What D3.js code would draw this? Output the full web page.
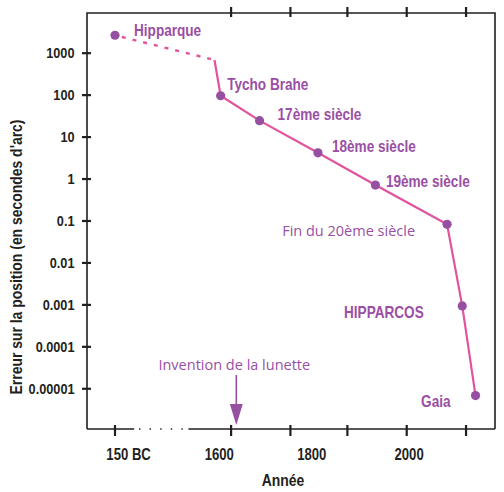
<!DOCTYPE html>
<html>
<head>
<meta charset="utf-8">
<script src="https://cdnjs.cloudflare.com/ajax/libs/d3/7.8.5/d3.min.js"></script>
<style>
  body { margin: 0; background: #fff; }
  .bold { font-family: "Liberation Sans", Arial, sans-serif; font-weight: bold; }
  .light { font-family: "Open Sans", "Noto Sans", sans-serif; }
</style>
</head>
<body>
<div id="chart"></div>
<script>

// data
var eraNames = ["Hipparque", "Tycho Brahe", "17ème siècle", "18ème siècle", "19ème siècle", "Fin du 20ème siècle", "HIPPARCOS", "Gaia"];
var eraYears = [-150, 1603, 1685, 1808, 1929, 2080, 2112, 2140];
var eraErrors = [2600, 94, 24, 4.1, 0.7, 0.081, 0.00092, 0.0000067];

// where the dotted (pre-telescope) guess stops
var breakYear = 1590;
var breakError = 670;

var yTicks = [1000, 100, 10, 1, 0.1, 0.01, 0.001, 0.0001, 0.00001];
var yTickLabels = ["1000", "100", "10", "1", "0.1", "0.01", "0.001", "0.0001", "0.00001"];

var xTickYears = [-150, 1625, 1750, 1870, 1995, 2120];
var xLabelYears = [-65, 1600, 1795, 2000];
var xLabels = ["150 BC", "1600", "1800", "2000"];

var telescopeYear = 1636;
var telescopeLabel = "Invention de la lunette";

// no condensed font installed, so squeeze the bold text by hand
function squeeze(sel, k) {
  sel.each(function() {
    var t = d3.select(this);
    var x = +t.attr("x") || 0, y = +t.attr("y") || 0;
    t.attr("x", 0).attr("y", 0)
      .attr("transform", "translate(" + x + "," + y + ") scale(" + k + ",1)");
  });
}

ErrorChart = function(_parentElement, _width, _height) {
  this.parentElement = _parentElement;
  this.width = _width;
  this.height = _height;
  this.data = eraNames.map(function(n, i) {
    return { name: n, year: eraYears[i], error: eraErrors[i] };
  });
  this.initVis();
}

ErrorChart.prototype.initVis = function() {
  var vis = this;

  vis.margin = { top: 13, right: 9, bottom: 63, left: 87 };
  vis.w = vis.width - vis.margin.left - vis.margin.right;
  vis.h = vis.height - vis.margin.top - vis.margin.bottom;

  vis.svg = d3.select("#" + vis.parentElement).append("svg")
    .attr("width", vis.width)
    .attr("height", vis.height)
    .append("g")
    .attr("transform", "translate(" + vis.margin.left + "," + vis.margin.top + ")");

  // broken time axis: antiquity squeezed in on the left
  vis.x = d3.scaleLinear()
    .domain([-300, -150, 0, 1530, 2181])
    .range([0, 28, 52, 99, vis.w]);

  vis.y = d3.scaleLog()
    .domain([1.07e-6, 8830])
    .range([vis.h, 0]);

  vis.drawAxes();
  vis.updateVis();
}

ErrorChart.prototype.drawAxes = function() {
  var vis = this;
  var ink = "#231f20";

  // frame (top, left, right)
  vis.svg.append("path")
    .attr("d", "M0," + vis.h + "V0H" + vis.w + "V" + vis.h)
    .attr("fill", "none")
    .attr("stroke", ink).attr("stroke-width", 1.6);

  // bottom line with the gap
  vis.svg.append("line")
    .attr("x1", 0).attr("x2", vis.x(-30)).attr("y1", vis.h).attr("y2", vis.h)
    .attr("stroke", ink).attr("stroke-width", 1.6);
  vis.svg.append("line")
    .attr("x1", vis.x(0)).attr("x2", vis.x(1500)).attr("y1", vis.h).attr("y2", vis.h)
    .attr("stroke", ink).attr("stroke-width", 1.6)
    .attr("stroke-dasharray", "1.4,9.2");
  vis.svg.append("line")
    .attr("x1", vis.x(1535)).attr("x2", vis.w).attr("y1", vis.h).attr("y2", vis.h)
    .attr("stroke", ink).attr("stroke-width", 1.6);

  // y axis
  var k = 0.82;
  var yAxis = d3.axisLeft(vis.y)
    .tickValues(yTicks)
    .tickFormat(function(d, i) { return yTickLabels[i]; })
    .tickSizeInner(5)
    .tickSizeOuter(0)
    .tickPadding(4);

  var gy = vis.svg.append("g").attr("class", "axis y-axis").call(yAxis);
  gy.select(".domain").remove();
  gy.selectAll(".tick line").attr("x1", 4).attr("stroke", ink).attr("stroke-width", 2.2);
  gy.selectAll(".tick text")
    .attr("class", "bold")
    .attr("font-size", "15.5px")
    .attr("font-family", null)
    .attr("fill", ink)
    .attr("x", -12.5 / k)
    .attr("transform", "scale(" + k + ",1)");

  // x ticks, bottom and top
  vis.svg.append("g").selectAll("line")
    .data(xTickYears)
    .enter().append("line")
    .attr("x1", function(d) { return vis.x(d); })
    .attr("x2", function(d) { return vis.x(d); })
    .attr("y1", vis.h - 4)
    .attr("y2", vis.h + 7)
    .attr("stroke", ink)
    .attr("stroke-width", 2.2);

  vis.svg.append("g").selectAll("line")
    .data(xTickYears.slice(1))
    .enter().append("line")
    .attr("x1", function(d) { return vis.x(d); })
    .attr("x2", function(d) { return vis.x(d); })
    .attr("y1", -6)
    .attr("y2", 4)
    .attr("stroke", ink)
    .attr("stroke-width", 2.2);

  var xl = vis.svg.append("g").selectAll("text")
    .data(xLabels)
    .enter().append("text")
    .attr("class", "bold")
    .attr("font-size", "16px")
    .attr("fill", ink)
    .attr("text-anchor", "middle")
    .attr("x", function(d, i) { return vis.x(xLabelYears[i]); })
    .attr("y", vis.h + 31)
    .text(function(d) { return d; });
  squeeze(xl, k);

  // axis titles
  var xt = vis.svg.append("text")
    .attr("class", "bold")
    .attr("font-size", "17px")
    .attr("fill", ink)
    .attr("text-anchor", "middle")
    .attr("x", 283 - vis.margin.left)
    .attr("y", vis.h + 57)
    .text("Année");
  squeeze(xt, k);

  vis.svg.append("text")
    .attr("class", "bold")
    .attr("font-size", "17px")
    .attr("fill", ink)
    .attr("text-anchor", "middle")
    .attr("transform", "translate(" + (22 - vis.margin.left) + "," + (vis.h / 2 + 36) + ") rotate(-90) scale(" + k + ",1)")
    .text("Erreur sur la position (en secondes d'arc)");
}

ErrorChart.prototype.updateVis = function() {
  var vis = this;

  var lineColor = "#e2539e";
  var dotColor = "#9650a2";
  var labelColor = "#9a4fa4";

  var line = d3.line()
    .x(function(d) { return vis.x(d.year); })
    .y(function(d) { return vis.y(d.error); });

  var brk = { year: breakYear, error: breakError };

  // pre-telescope era, dashed
  vis.svg.append("path")
    .datum([vis.data[0], brk])
    .attr("d", line)
    .attr("fill", "none")
    .attr("stroke", lineColor)
    .attr("stroke-width", 2.4)
    .attr("stroke-dasharray", "4,7")
    .attr("stroke-dashoffset", 4);

  vis.svg.append("path")
    .datum([brk].concat(vis.data.slice(1)))
    .attr("d", line)
    .attr("fill", "none")
    .attr("stroke", lineColor)
    .attr("stroke-width", 2.2);

  vis.svg.selectAll(".dot")
    .data(vis.data)
    .enter().append("circle")
    .attr("class", "dot")
    .attr("r", 4.6)
    .attr("fill", dotColor)
    .attr("cx", function(d) { return vis.x(d.year); })
    .attr("cy", function(d) { return vis.y(d.error); });

  // label placement next to each point
  var labelPos = [
    { dx: 19, dy: 1, anchor: "start", bold: true },
    { dx: 6.5, dy: -5.5, anchor: "start", bold: true },
    { dx: 18, dy: -1, anchor: "start", bold: true },
    { dx: 14, dy: -1, anchor: "start", bold: true },
    { dx: 10.5, dy: 1.7, anchor: "start", bold: true },
    { dx: -32, dy: 11.4, anchor: "end", bold: false },
    { dx: -38.5, dy: 12.3, anchor: "end", bold: true },
    { dx: -25, dy: 11, anchor: "end", bold: true }
  ];

  var labels = vis.svg.selectAll(".era-label")
    .data(vis.data)
    .enter().append("text")
    .attr("class", function(d, i) { return "era-label " + (labelPos[i].bold ? "bold" : "light"); })
    .attr("font-size", function(d, i) { return labelPos[i].bold ? "16px" : "14.5px"; })
    .attr("fill", labelColor)
    .attr("text-anchor", function(d, i) { return labelPos[i].anchor; })
    .attr("x", function(d, i) { return vis.x(d.year) + labelPos[i].dx; })
    .attr("y", function(d, i) { return vis.y(d.error) + labelPos[i].dy; })
    .text(function(d) { return d.name; });
  squeeze(labels.filter(function(d, i) { return labelPos[i].bold; }), 0.85);

  // telescope arrow
  var ax = vis.x(telescopeYear);
  vis.svg.append("text")
    .attr("class", "light")
    .attr("font-size", "14.5px")
    .attr("fill", labelColor)
    .attr("text-anchor", "middle")
    .attr("x", ax - 2)
    .attr("y", vis.h - 59)
    .text(telescopeLabel);

  vis.svg.append("line")
    .attr("x1", ax).attr("x2", ax)
    .attr("y1", vis.h - 54).attr("y2", vis.h - 24)
    .attr("stroke", dotColor)
    .attr("stroke-width", 1.6);

  vis.svg.append("path")
    .attr("d", "M" + (ax - 6.5) + "," + (vis.h - 25) + "L" + (ax + 6.5) + "," + (vis.h - 25) + "L" + ax + "," + (vis.h - 4) + "Z")
    .attr("fill", dotColor);
}

var chart = new ErrorChart("chart", 504, 492);

</script>
</body>
</html>
